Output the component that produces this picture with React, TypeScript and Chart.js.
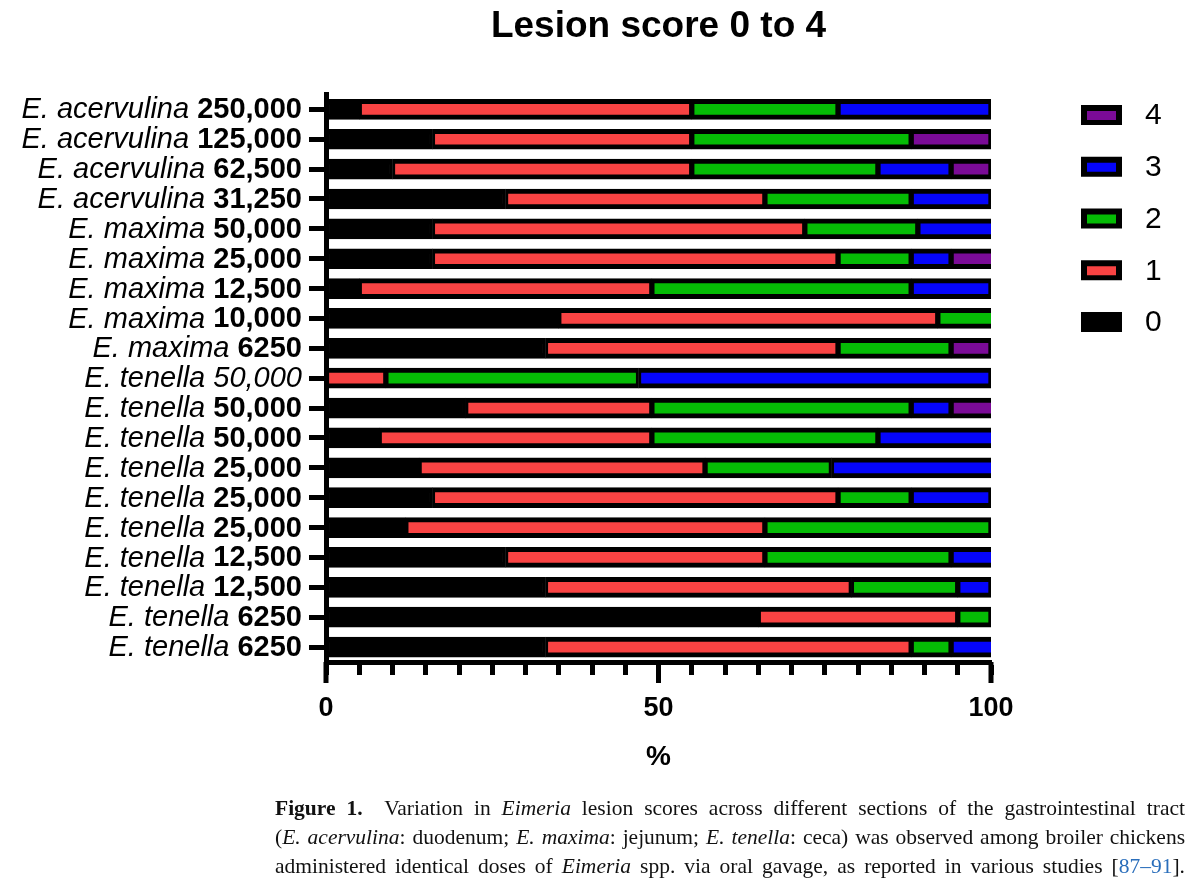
import { useEffect, useRef } from "react";
import { Chart, registerables } from "chart.js";

Chart.register(...registerables);

const FAMILY = "'Liberation Sans', Arial, Helvetica, sans-serif";

const TITLE = "Lesion score 0 to 4";
const AXIS_TITLE = "%";

const species = [
  "E. acervulina", "E. acervulina", "E. acervulina", "E. acervulina",
  "E. maxima", "E. maxima", "E. maxima", "E. maxima", "E. maxima",
  "E. tenella", "E. tenella", "E. tenella", "E. tenella", "E. tenella",
  "E. tenella", "E. tenella", "E. tenella", "E. tenella", "E. tenella",
];
const doses = [
  "250,000", "125,000", "62,500", "31,250",
  "50,000", "25,000", "12,500", "10,000", "6250",
  "50,000", "50,000", "50,000", "25,000", "25,000",
  "25,000", "12,500", "12,500", "6250", "6250",
];
const plainDoseRows = [9];

const scoreLabels = ["0", "1", "2", "3", "4"];
const score0 = [5, 16, 10, 27, 16, 16, 5, 35, 33, 0, 21, 8, 14, 16, 12, 27, 33, 65, 33];
const score1 = [50, 39, 45, 39, 56, 61, 44, 57, 44, 9, 28, 41, 43, 61, 54, 39, 46, 30, 55];
const score2 = [22, 33, 28, 22, 17, 11, 39, 10, 17, 38, 39, 34, 19, 11, 34, 28, 16, 5, 6];
const score3 = [23, 0, 11, 12, 13, 6, 12, 0, 0, 53, 6, 19, 26, 12, 0, 8, 5, 0, 8];
const score4 = [0, 12, 6, 0, 0, 8, 0, 0, 6, 0, 8, 0, 0, 0, 0, 0, 0, 0, 0];
const scoreColors = ["#000000", "#F94343", "#05BC05", "#0505FA", "#7B0B97"];

const xMin = 0;
const xMax = 100;
const xStep = 5;
const xMajorTicks = [0, 50, 100];

export default function App() {
  const canvasRef = useRef<HTMLCanvasElement | null>(null);

  useEffect(() => {
    const canvas = canvasRef.current;
    if (!canvas) return;
    const series = [score0, score1, score2, score3, score4];
    const labels = species.map((s, i) => `${s} ${doses[i]}`);

    const overlay = {
      id: "overlay",
      afterDraw(chart: any) {
        const { ctx, chartArea, scales } = chart;
        const xs = scales.x;
        const ys = scales.y;
        ctx.save();
        ctx.fillStyle = "#000";
        // title
        ctx.font = `bold 37px ${FAMILY}`;
        ctx.textAlign = "center";
        ctx.textBaseline = "middle";
        ctx.fillText(TITLE, (chartArea.left + chartArea.right) / 2, 27);
        // major ticks (longer)
        for (const v of xMajorTicks) {
          const px = xs.getPixelForValue(v);
          ctx.fillRect(px - 2.5, chartArea.bottom, 5, 21);
        }
        // y labels with mixed styles
        ctx.textAlign = "right";
        ctx.textBaseline = "middle";
        const rightX = 302;
        for (let i = 0; i < species.length; i++) {
          const py = ys.getPixelForValue(i) + 1;
          const plain = plainDoseRows.includes(i);
          ctx.font = plain ? `italic 29px ${FAMILY}` : `bold 29px ${FAMILY}`;
          ctx.fillText(doses[i], rightX, py);
          const w = ctx.measureText(doses[i]).width;
          ctx.font = `italic 29px ${FAMILY}`;
          ctx.fillText(species[i] + " ", rightX - w, py);
        }
        // legend
        const dsets = chart.data.datasets;
        ctx.textAlign = "left";
        for (let k = 0; k < dsets.length; k++) {
          const ds = dsets[dsets.length - 1 - k];
          const cy = 115 + k * 51.75;
          ctx.fillStyle = "#000";
          ctx.fillRect(1081, cy - 10, 41, 20);
          ctx.fillStyle = ds.backgroundColor;
          ctx.fillRect(1087, cy - 4, 29, 9);
          ctx.fillStyle = "#000";
          ctx.font = `30px ${FAMILY}`;
          ctx.fillText(ds.label, 1145, cy + 1);
        }
        ctx.restore();
      },
    };

    const chart = new Chart(canvas, {
      type: "bar",
      data: {
        labels,
        datasets: series.map((vals, k) => ({
          label: scoreLabels[k],
          data: vals.map((v) => (v === 0 ? null : v)),
          backgroundColor: scoreColors[k],
          borderColor: "#000000",
          borderWidth: { top: 5, bottom: 5, left: 3, right: 3 },
          borderSkipped: false,
          barThickness: 20,
          clip: 0,
        })),
      },
      options: {
        indexAxis: "y",
        responsive: false,
        maintainAspectRatio: false,
        devicePixelRatio: 1,
        animation: false,
        layout: { padding: { left: 0, right: 209, top: 94.4, bottom: 118 } },
        plugins: {
          legend: { display: false },
          tooltip: { enabled: false },
          title: { display: false },
        },
        scales: {
          x: {
            type: "linear",
            stacked: true,
            min: xMin,
            max: xMax,
            afterFit: (s: any) => {
              s.height = 112;
            },
            border: { display: true, color: "#000", width: 5 },
            grid: {
              drawOnChartArea: false,
              drawTicks: true,
              tickLength: 13,
              tickWidth: 5,
              tickColor: "#000",
            },
            ticks: {
              stepSize: xStep,
              autoSkip: false,
              maxRotation: 0,
              padding: 17,
              color: "#000",
              font: { family: FAMILY, size: 27, weight: "bold" },
              callback: (v: any) => (xMajorTicks.includes(Number(v)) ? String(v) : ""),
            },
            title: {
              display: true,
              text: AXIS_TITLE,
              color: "#000",
              font: { family: FAMILY, size: 28, weight: "bold" },
              padding: { top: 0, bottom: 0 },
            },
          },
          y: {
            type: "category",
            stacked: true,
            offset: true,
            afterFit: (s: any) => {
              s.width = 326;
            },
            border: { display: true, color: "#000", width: 5 },
            grid: {
              offset: false,
              drawOnChartArea: false,
              drawTicks: true,
              tickLength: 17,
              tickWidth: 5,
              tickColor: "#000",
            },
            ticks: { display: false },
          },
        },
      },
      plugins: [overlay],
    } as any);

    return () => chart.destroy();
  }, []);

  const lineStyle: any = {
    whiteSpace: "nowrap",
    textAlign: "justify",
    textAlignLast: "justify",
    height: 29,
  };

  return (
    <div style={{ position: "absolute", left: 0, top: 0, width: 1200, height: 892, background: "#fff", overflow: "hidden" }}>
      <canvas ref={canvasRef} width={1200} height={892} style={{ position: "absolute", left: 0, top: 0 }} />
      <div
        style={{
          position: "absolute",
          left: 275,
          top: 794,
          width: 910,
          fontFamily: "'Liberation Serif', 'Times New Roman', serif",
          fontSize: 21.5,
          lineHeight: "29px",
          color: "#111",
        }}
      >
        <div style={lineStyle}>
          <b>Figure 1.</b>&nbsp; Variation in <i>Eimeria</i> lesion scores across different sections of the gastrointestinal tract
        </div>
        <div style={lineStyle}>
          (<i>E. acervulina</i>: duodenum; <i>E. maxima</i>: jejunum; <i>E. tenella</i>: ceca) was observed among broiler chickens
        </div>
        <div style={lineStyle}>
          administered identical doses of <i>Eimeria</i> spp. via oral gavage, as reported in various studies [<span style={{ color: "#2a6ebb" }}>87–91</span>].
        </div>
      </div>
    </div>
  );
}
